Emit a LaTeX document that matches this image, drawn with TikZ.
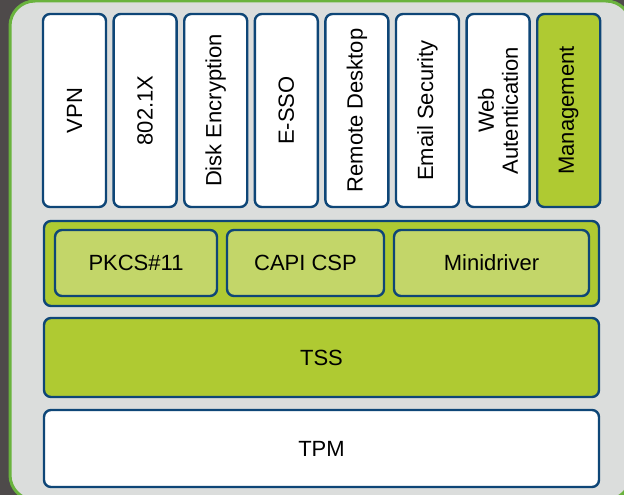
\documentclass[tikz,border=0pt]{standalone}
\usepackage{fontspec}
\setmainfont{Liberation Sans}
\definecolor{bgdark}{HTML}{4E4A4A}
\definecolor{panelgray}{HTML}{DBDDDC}
\definecolor{panelgreen}{HTML}{6AB33E}
\definecolor{lime}{HTML}{AFCA32}
\definecolor{limelight}{HTML}{C3D669}
\definecolor{edgeblue}{HTML}{0E4677}
\begin{document}
\begin{tikzpicture}[x=1pt,y=-1pt,
	every node/.style={font=\fontsize{22}{24}\selectfont},
	layer/.style={draw=edgeblue,line width=2.4pt,rounded corners=7pt,inner sep=0pt},
	app/.style={layer,fill=white,rotate=90,minimum width=193pt,minimum height=63pt,align=center}]
		\useasboundingbox (0,0) rectangle (624,495);
		\clip (0,0) rectangle (624,495);
		\fill[bgdark] (0,0) rectangle (624,495);
		\draw[fill=panelgray,draw=panelgreen,line width=3pt,rounded corners=25pt] (10,1) rectangle (631,500);
		% applications
		\node[app] (vpn) at (74.5,110.5) {VPN};
		\node[app] (dot1x) at (145.1,110.5) {802.1X};
		\node[app] (diskenc) at (215.7,110.5) {Disk Encryption};
		\node[app] (esso) at (286.3,110.5) {E-SSO};
		\node[app] (rdp) at (356.9,110.5) {Remote Desktop};
		\node[app] (email) at (427.5,110.5) {Email Security};
		\node[app] (webauth) at (498.1,110.5) {Web\\Autentication};
		\node[app,fill=lime] (mgmt) at (568.7,110.5) {Management};
		% middleware
		\node[layer,fill=lime,minimum width=555pt,minimum height=85pt] (prov) at (321.5,263.5) {};
		\node[layer,fill=limelight,minimum width=162pt,minimum height=66pt] (pkcs) at (136,263) {PKCS\#11};
		\node[layer,fill=limelight,minimum width=157pt,minimum height=66pt] (capi) at (305.5,263) {CAPI CSP};
		\node[layer,fill=limelight,minimum width=195pt,minimum height=66pt] (minidrv) at (491.5,263) {Minidriver};
		% stack
		\node[layer,fill=lime,minimum width=555pt,minimum height=79pt] (tss) at (321.5,357.5) {TSS};
		\node[layer,fill=white,minimum width=555pt,minimum height=77pt] (tpm) at (321.5,448.5) {TPM};
\end{tikzpicture}
\end{document}
